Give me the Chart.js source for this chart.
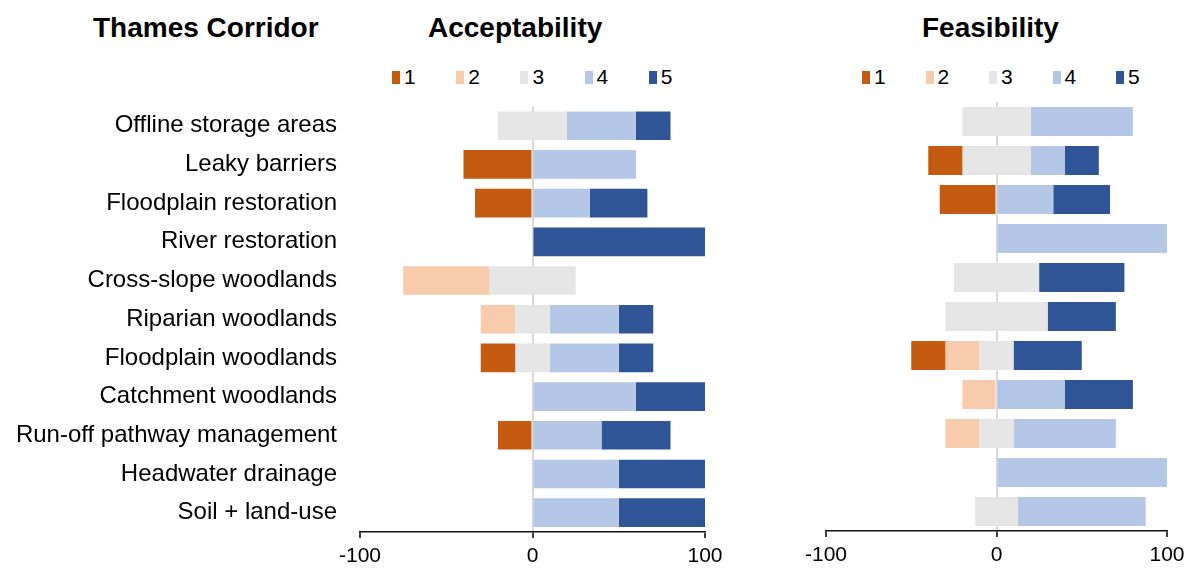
<!DOCTYPE html>
<html>
<head>
<meta charset="utf-8">
<script src="https://cdn.jsdelivr.net/npm/chart.js@4.4.1/dist/chart.umd.min.js"></script>
<style>
body { margin: 0; background: #fff; width: 1191px; height: 571px; overflow: hidden; position: relative; font-family: "Liberation Sans", Arial, sans-serif; }
.title { position: absolute; top: 14px; font-weight: bold; font-size: 28px; line-height: 28px; color: #000; white-space: nowrap; }
.box { position: absolute; top: 71px; width: 8px; height: 13px; }
.lab { position: absolute; top: 66px; font-size: 21px; line-height: 21px; color: #000; }
canvas { position: absolute; }
</style>
</head>
<body>
<div class="title" style="left:93px">Thames Corridor</div>
<div class="title" style="left:428px">Acceptability</div>
<div class="title" style="left:922px">Feasibility</div>
<div id="legends"></div>
<canvas id="accChart" width="730" height="502" style="left:0;top:69px"></canvas>
<canvas id="feasChart" width="401" height="476" style="left:790px;top:95px"></canvas>
<script>
var categories = ['Offline storage areas', 'Leaky barriers', 'Floodplain restoration', 'River restoration',
  'Cross-slope woodlands', 'Riparian woodlands', 'Floodplain woodlands', 'Catchment woodlands',
  'Run-off pathway management', 'Headwater drainage', 'Soil + land-use'];

var scoreLabels = ['1', '2', '3', '4', '5'];
var scoreColors = ['#C55A11', '#F8CBAD', '#E6E6E6', '#B4C7E7', '#2F5597'];

// acceptability, % of answers per score
var acc1 = [0, 40, 33.3, 0, 0, 0, 20, 0, 20, 0, 0];
var acc2 = [0, 0, 0, 0, 50, 20, 0, 0, 0, 0, 0];
var acc3 = [40, 0, 0, 0, 50, 20, 20, 0, 0, 0, 0];
var acc4 = [40, 60, 33.3, 0, 0, 40, 40, 60, 40, 50, 50];
var acc5 = [20, 0, 33.3, 100, 0, 20, 20, 40, 40, 50, 50];

// feasibility
var feas1 = [0, 20, 33.3, 0, 0, 0, 20, 0, 0, 0, 0];
var feas2 = [0, 0, 0, 0, 0, 0, 20, 20, 20, 0, 0];
var feas3 = [40, 40, 0, 0, 50, 60, 20, 0, 20, 0, 25];
var feas4 = [60, 20, 33.3, 100, 0, 0, 0, 40, 60, 100, 75];
var feas5 = [0, 20, 33.3, 0, 50, 40, 40, 40, 0, 0, 0];

// score 3 is split around zero, 1 and 2 go left, 4 and 5 go right
function divergingSets(series) {
  var sets = series.map(function () { return []; });
  for (var i = 0; i < categories.length; i++) {
    var start = -(series[0][i] + series[1][i] + series[2][i] / 2);
    for (var k = 0; k < series.length; k++) {
      var v = series[k][i];
      sets[k].push(v > 0 ? [start, start + v] : null);
      start += v;
    }
  }
  return sets.map(function (d, k) {
    return {
      label: scoreLabels[k],
      data: d,
      backgroundColor: scoreColors[k],
      borderWidth: 0,
      grouped: false,
      barPercentage: 0.74,
      categoryPercentage: 1
    };
  });
}

function xAxis(height) {
  return {
    min: -100,
    max: 100,
    ticks: { stepSize: 100, color: '#000', font: { size: 21, family: 'Liberation Sans' }, padding: 6 },
    grid: {
      color: function (c) { return c.tick && c.tick.value === 0 ? '#d9d9d9' : 'rgba(0,0,0,0)'; },
      lineWidth: 2,
      tickColor: '#000',
      tickWidth: 1.5,
      tickLength: 6
    },
    border: { display: true, color: '#111', width: 1.5 },
    afterFit: function (s) { s.height = height; }
  };
}

// legends
var legendHtml = '';
[[392, 64.2], [862, 63.5]].forEach(function (p) {
  scoreLabels.forEach(function (l, k) {
    var x = p[0] + k * p[1];
    legendHtml += '<div class="box" style="left:' + x + 'px;background:' + scoreColors[k] + '"></div>';
    legendHtml += '<div class="lab" style="left:' + (x + 12) + 'px">' + l + '</div>';
  });
});
document.getElementById('legends').innerHTML = legendHtml;

Chart.defaults.font.family = 'Liberation Sans';

new Chart(document.getElementById('accChart'), {
  type: 'bar',
  data: { labels: categories, datasets: divergingSets([acc1, acc2, acc3, acc4, acc5]) },
  options: {
    indexAxis: 'y',
    responsive: false,
    animation: false,
    layout: { padding: { top: 11, right: 25, left: 0, bottom: 0 } },
    plugins: { legend: { display: false }, tooltip: { enabled: false } },
    scales: {
      x: xAxis(39),
      y: {
        ticks: { color: '#000', font: { size: 24 }, padding: 23 },
        grid: { display: false, drawTicks: false },
        border: { display: false },
        afterFit: function (s) { s.width = 360; }
      }
    }
  }
});

new Chart(document.getElementById('feasChart'), {
  type: 'bar',
  data: { labels: categories, datasets: divergingSets([feas1, feas2, feas3, feas4, feas5]) },
  options: {
    indexAxis: 'y',
    responsive: false,
    animation: false,
    layout: { padding: { top: 7, right: 24, left: 36, bottom: 0 } },
    plugins: { legend: { display: false }, tooltip: { enabled: false } },
    scales: {
      x: xAxis(40),
      y: { display: false }
    }
  }
});
</script>
</body>
</html>
